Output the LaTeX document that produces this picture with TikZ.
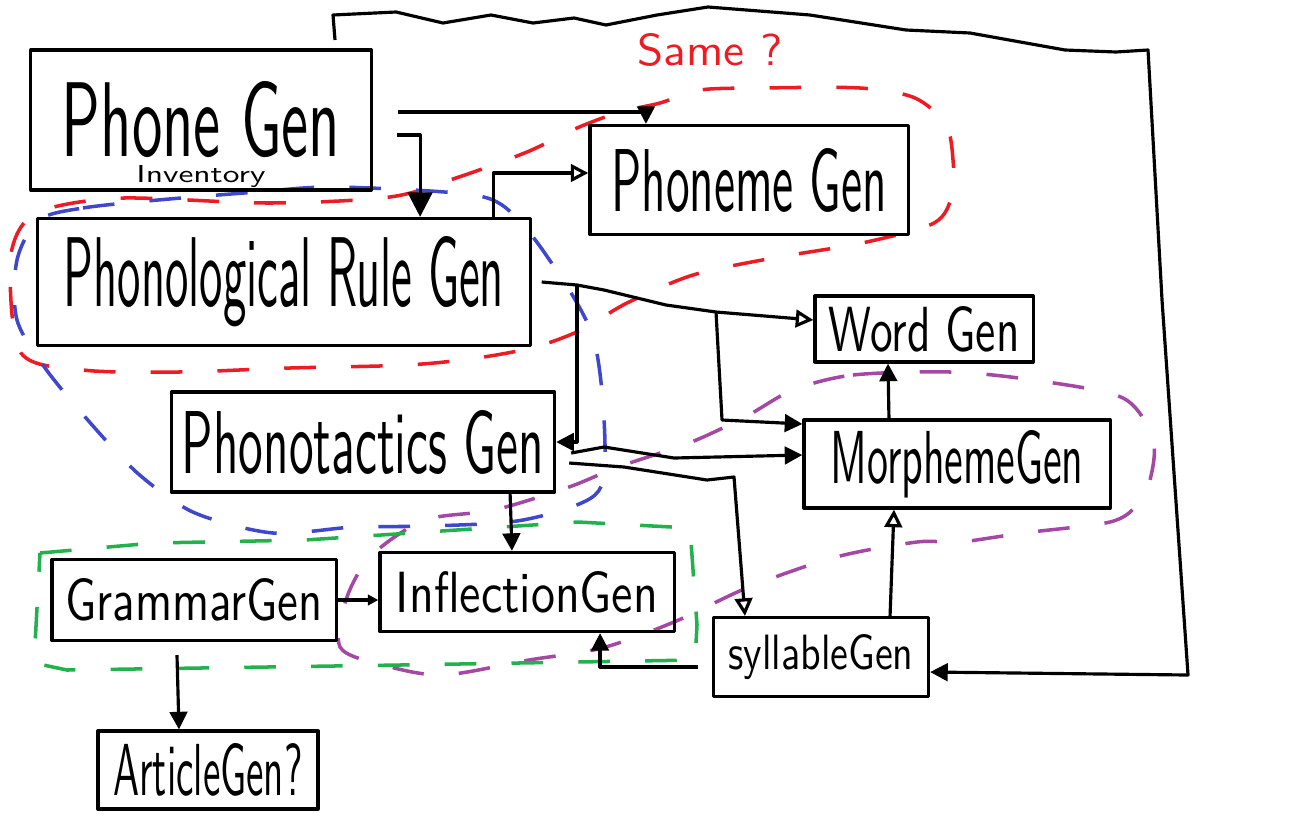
\documentclass[tikz,border=0pt]{standalone}
\usepackage{fontspec}
\usepackage{graphicx}
\usetikzlibrary{arrows.meta}
\definecolor{pred}{RGB}{237,28,36}
\definecolor{pblue}{RGB}{63,72,204}
\definecolor{pgreen}{RGB}{34,177,76}
\definecolor{ppurple}{RGB}{163,73,164}
\newcommand{\hand}[3]{\resizebox{#1}{#2}{#3}}
\begin{document}
\begin{tikzpicture}[x=.01cm,y=-.01cm,line width=.9pt,line join=round,font=\sffamily,
  box/.style={draw,inner sep=0pt},
  arr/.style={-{Triangle[length=5pt,width=5pt]}},
  oarr/.style={-{Triangle[open,length=5pt,width=5pt]}},
  sarr/.style={-{Triangle[length=3pt,width=3pt]}},
  group/.style={line width=1pt,dash pattern=on 9pt off 10pt}]
\useasboundingbox (0,0) rectangle (1301,836);
% groupings
\draw[group,pred] plot[smooth cycle] coordinates {(10,267) (21,353) (83,370) (178,372) (290,368) (407,365) (477,358) (535,347) (581,330) (627,303) (693,275) (773,258) (862,243) (934,223) (952,195) (953,160) (946,125) (915,98) (860,88) (760,88) (700,90) (660,103) (620,112) (577,128) (527,152) (456,178) (390,197) (270,203) (124,198) (50,208) (21,227)};
\draw[group,pblue] plot[smooth cycle] coordinates {(39,220) (83,208) (158,200) (257,192) (332,187) (456,193) (502,205) (544,252) (593,337) (605,445) (595,495) (523,520) (430,526) (354,527) (273,533) (195,513) (142,477) (101,435) (48,372) (17,320) (17,260)};
\draw[group,ppurple] plot[smooth cycle] coordinates {(793,390) (853,375) (950,372) (1033,380) (1123,398) (1153,440) (1150,480) (1137,505) (1110,522) (1023,533) (960,542) (917,542) (836,557) (749,587) (674,622) (602,648) (529,660) (443,675) (383,665) (340,647) (347,597) (372,555) (425,520) (494,510) (569,487) (618,467) (689,443) (745,417)};
\draw[group,pgreen] (40,553) -- (154,543) -- (305,540) -- (578,522) -- (690,528) -- (697,625) -- (695,660) -- (400,665) -- (67,670) -- (34,663) -- cycle;
\node[anchor=base,text=pred] (same) at (710,65) {\hand{1.45cm}{.32cm}{Same ?}};
% generators
\node[box,minimum width=3.40cm,minimum height=1.40cm] (phone) at (201,120) {\hand{2.78cm}{.75cm}{Phone Gen}};
\node[anchor=base] (inv) at (201,182) {\hand{1.29cm}{.17cm}{Inventory}};
\node[box,minimum width=3.18cm,minimum height=1.09cm] (phoneme) at (749,180) {\hand{2.75cm}{.63cm}{Phoneme Gen}};
\node[box,minimum width=4.92cm,minimum height=1.27cm] (rule) at (284,282) {\hand{4.40cm}{.70cm}{Phonological Rule Gen}};
\node[box,minimum width=2.18cm,minimum height=.66cm] (word) at (924,329) {\hand{1.91cm}{.45cm}{Word Gen}};
\node[box,minimum width=3.83cm,minimum height=1.00cm] (tactics) at (363,442) {\hand{3.62cm}{.63cm}{Phonotactics Gen}};
\node[box,minimum width=3.06cm,minimum height=.88cm] (morph) at (957,464) {\hand{2.53cm}{.53cm}{MorphemeGen}};
\node[box,minimum width=2.84cm,minimum height=.81cm] (grammar) at (194,600) {\hand{2.57cm}{.42cm}{GrammarGen}};
\node[box,minimum width=2.94cm,minimum height=.79cm] (infl) at (527,592) {\hand{2.62cm}{.41cm}{InflectionGen}};
\node[box,minimum width=2.15cm,minimum height=.79cm] (syll) at (821,657) {\hand{1.85cm}{.35cm}{syllableGen}};
\node[box,minimum width=2.20cm,minimum height=.78cm] (article) at (208,770) {\hand{1.89cm}{.52cm}{ArticleGen?}};
% Phone Gen out
\coordinate (a1) at (398,112);
\coordinate (a2) at (397,135);
\draw[arr] (a1) -| ([xshift=-1.03cm]phoneme.north);
\draw[-{Triangle[length=7pt,width=7pt]}] (a2) -| ([xshift=1.36cm]rule.north);
% Phonological Rule Gen out
\coordinate (j1) at (577,285);
\coordinate (j2) at (716,312);
\draw[oarr] ([xshift=2.09cm]rule.north) |- ([yshift=.07cm]phoneme.west);
\draw[oarr] ([xshift=.1cm]rule.east) -- (j1) -- (604,290) -- (666,305) -- (j2) -- ([yshift=.09cm]word.west);
\draw[arr] (j1) |- (tactics.east);
\draw[arr] (j2) -- (722,420) -- ([yshift=.4cm]morph.west);
% Phonotactics Gen out
\draw[arr] ([xshift=.15cm,yshift=-.11cm]tactics.east) -- (604,447) -- (674,458) -- ([yshift=.09cm]morph.west);
\draw[oarr] ([xshift=.13cm,yshift=-.21cm]tactics.east) -- (624,467) -- (707,480) -- (734,477) -- ([xshift=-.76cm]syll.north);
\draw[arr] ([xshift=1.47cm]tactics.south) -- ([xshift=-.15cm]infl.north);
% lower part
\draw[sarr] (grammar.east) -- (infl.west |- grammar.east);
\draw[arr] ([xshift=-.17cm,yshift=-.13cm]grammar.south) -- ([xshift=-.29cm]article.north);
\draw[arr] ([xshift=-.14cm,yshift=-.1cm]syll.west) -| ([xshift=.73cm]infl.south);
\draw[oarr] ([xshift=.69cm]syll.north) -- ([xshift=-.63cm]morph.south);
\draw[arr] ([xshift=-.68cm]morph.north) -- ([xshift=-.36cm]word.south);
% loop round the top
\coordinate (loop) at (335,40);
\draw[arr] (loop) -- (333,15) -- (396,12) -- (443,23) -- (491,15) -- (533,23) -- (574,18) -- (606,25) -- (657,15) -- (708,7) -- (810,15) -- (906,30) -- (970,33) -- (1065,50) -- (1116,52) -- (1148,50) -- (1162,300) -- (1188,675) -- ([yshift=-.15cm]syll.east);
\end{tikzpicture}
\end{document}
